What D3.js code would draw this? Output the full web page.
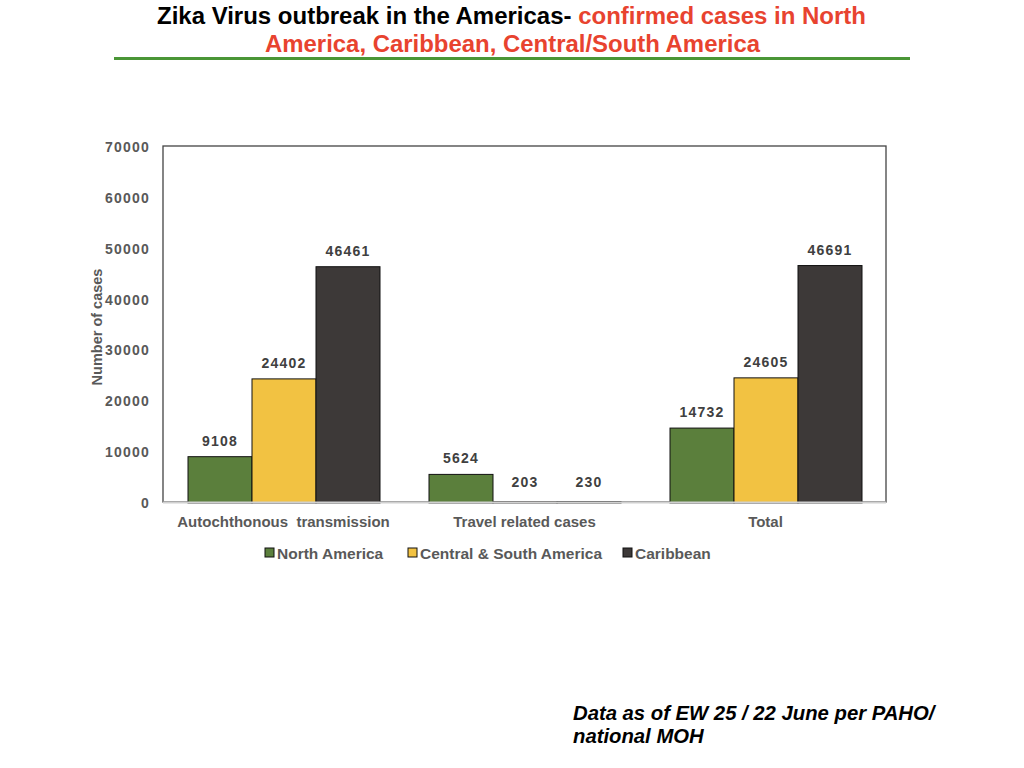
<!DOCTYPE html>
<html>
<head>
<meta charset="utf-8">
<script src="https://cdn.jsdelivr.net/npm/d3@7"></script>
<style>
  body { margin: 0; background: #fff; }
  svg { display: block; font-family: "Liberation Sans", Arial, sans-serif; }
</style>
</head>
<body>
<div id="chart"></div>
<script>
// data
const categories = ["Autochthonous  transmission", "Travel related cases", "Total"];
const seriesNames = ["North America", "Central & South America", "Caribbean"];
const northAmerica = [9108, 5624, 14732];
const centralSouth = [24402, 203, 24605];
const caribbean = [46461, 230, 46691];
const yTicks = [0, 10000, 20000, 30000, 40000, 50000, 60000, 70000];

const colors = ["#5b7f3c", "#f2c242", "#3d3938"];

// page and plot box
const W = 1024, H = 768;
const margin = { top: 146, left: 163, right: 138, bottom: 266 };
const width = W - margin.left - margin.right,
      height = H - margin.top - margin.bottom;

const svg = d3.select("#chart").append("svg")
    .attr("width", W)
    .attr("height", H);

// title
const title = svg.append("text")
    .attr("x", 157).attr("y", 24)
    .attr("textLength", 709).attr("lengthAdjust", "spacingAndGlyphs")
    .style("font-size", "23px").style("font-weight", "bold");
title.append("tspan").attr("fill", "#000").text("Zika Virus outbreak in the Americas- ");
title.append("tspan").attr("fill", "#e8432f").text("confirmed cases in North");

svg.append("text")
    .attr("x", 265).attr("y", 52)
    .attr("textLength", 495).attr("lengthAdjust", "spacingAndGlyphs")
    .attr("fill", "#e8432f")
    .style("font-size", "23px").style("font-weight", "bold")
    .text("America, Caribbean, Central/South America");

svg.append("line")
    .attr("x1", 114).attr("x2", 910)
    .attr("y1", 58.5).attr("y2", 58.5)
    .attr("stroke", "#4a9636").attr("stroke-width", 3);

const g = svg.append("g")
    .attr("transform", "translate(" + margin.left + "," + margin.top + ")");

const x0 = d3.scaleBand().domain(categories).range([0, width]).paddingInner(0).paddingOuter(0);
const x1 = d3.scaleBand().domain(seriesNames).range([25, x0.bandwidth() - 24]).padding(0);
const y = d3.scaleLinear().domain([0, 70000]).range([height + 1, 1]);

// plot frame
g.append("rect")
    .attr("x", 0).attr("y", 0)
    .attr("width", width).attr("height", height)
    .attr("fill", "none").attr("stroke", "#444").attr("stroke-width", 1.3);

// y axis labels
const yAxis = d3.axisLeft(y).tickValues(yTicks).tickSize(0).tickPadding(13).tickFormat(d3.format("d"));
const yAxisGroup = g.append("g").call(yAxis);
yAxisGroup.select(".domain").remove();
yAxisGroup.selectAll("text")
    .attr("fill", "#595959")
    .style("font-size", "14px").style("font-weight", "bold")
    .style("letter-spacing", "1.2px")
    .style("font-family", "Liberation Sans, Arial, sans-serif");

// y title
g.append("text")
    .attr("transform", "rotate(-90)")
    .attr("x", -(327 - margin.top)).attr("y", 97 - margin.left + 5)
    .attr("text-anchor", "middle")
    .attr("fill", "#595959")
    .style("font-size", "14.5px").style("font-weight", "bold")
    .text("Number of cases");

const table = categories.map((c, i) => ({
    category: c,
    values: [northAmerica[i], centralSouth[i], caribbean[i]]
}));

const groups = g.selectAll(".group").data(table).enter()
    .append("g")
    .attr("transform", d => "translate(" + x0(d.category) + ",0)");

groups.selectAll("rect")
    .data(d => d.values.map((v, j) => ({ name: seriesNames[j], value: v, color: colors[j] })))
    .enter().append("rect")
    .attr("x", d => x1(d.name))
    .attr("y", d => y(d.value))
    .attr("width", x1.bandwidth())
    .attr("height", d => y(0) - y(d.value))
    .attr("fill", d => d.color)
    .attr("stroke", "#111").attr("stroke-width", 1);

groups.selectAll(".lbl")
    .data(d => d.values.map((v, j) => ({ name: seriesNames[j], value: v })))
    .enter().append("text")
    .attr("x", d => x1(d.name) + x1.bandwidth() / 2)
    .attr("y", d => Math.min(y(d.value), y(0) - 5) - 11)
    .attr("text-anchor", "middle")
    .attr("fill", "#404040")
    .style("font-size", "14px").style("font-weight", "bold")
    .style("letter-spacing", "1.2px")
    .text(d => d.value);

// baseline
g.append("line")
    .attr("x1", 0).attr("x2", width)
    .attr("y1", y(0) - 0.5).attr("y2", y(0) - 0.5)
    .attr("stroke", "#d0d0d0").attr("stroke-width", 2);

// category labels
const xAxis = d3.axisBottom(x0).tickSize(0).tickPadding(14);
const xAxisGroup = g.append("g").attr("transform", "translate(0," + height + ")").call(xAxis);
xAxisGroup.select(".domain").remove();
xAxisGroup.selectAll("text")
    .attr("fill", "#595959")
    .style("font-size", "15px").style("font-weight", "bold")
    .style("font-family", "Liberation Sans, Arial, sans-serif")
    .style("white-space", "pre");

// legend
const legendX = [265, 408, 623];
const legend = svg.append("g").selectAll("g").data(seriesNames).enter()
    .append("g")
    .attr("transform", (d, i) => "translate(" + legendX[i] + ",548)");
legend.append("rect")
    .attr("width", 9).attr("height", 9)
    .attr("fill", (d, i) => colors[i]).attr("stroke", "#111").attr("stroke-width", 1);
legend.append("text")
    .attr("x", 12).attr("y", 10.5)
    .attr("fill", "#595959")
    .style("font-size", "15.5px").style("font-weight", "bold")
    .text(d => d);

// footnote
const foot = svg.append("text")
    .attr("x", 573).attr("y", 720)
    .attr("fill", "#000")
    .style("font-size", "20.3px").style("font-weight", "bold").style("font-style", "italic");
foot.append("tspan").attr("x", 573).attr("y", 720).text("Data as of EW 25 / 22 June per PAHO/");
foot.append("tspan").attr("x", 573).attr("y", 743).text("national MOH");
</script>
</body>
</html>
